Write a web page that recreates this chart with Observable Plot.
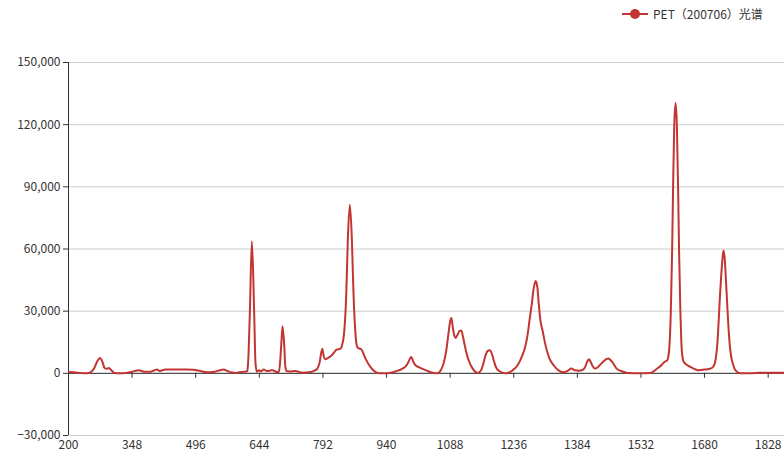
<!DOCTYPE html>
<html><head><meta charset="utf-8">
<script src="https://cdn.jsdelivr.net/npm/d3@7"></script>
<script src="https://cdn.jsdelivr.net/npm/@observablehq/plot@0.6"></script>
<style>
body{margin:0;background:#fff;font-family:"Noto Sans CJK SC","Noto Sans",sans-serif;}
#wrap{position:relative;width:784px;height:460px;}
#legend{position:absolute;left:622px;top:5px;display:flex;align-items:center;font-size:12px;color:#333;white-space:nowrap;}
#legend span{margin-left:5px;}
</style></head><body>
<div id="wrap"><div id="legend"></div></div>
<script>
const seriesName = "PET（200706）光谱";
const wavenumbers = [
200,212,228,242,252,260,267,273,279,284,289,294,300,307,318,333,348,364,376,390,
400,406,412,418,426,450,475,491,505,523,540,552,561,570,580,590,600,610,616,618,
622,626.7,632,635,638,643,648,654.6,660,666,671,675.5,680,685.7,689.4,691.8,695,698,702,704.3,
707,715,728,744,763,772,779,784,790.4,794,798,804,810,817,823.7,833,837,840.7,846.2,850,
854.7,859.3,863.3,868,871.8,876,881,891,902.8,914.5,925,940,950,962,975,985,991,997.5,1003,1008,
1015,1025,1038,1050,1058,1066,1073,1079,1084,1088,1091,1094,1098,1101,1105,1110,1114,1118,1122,1127,
1131,1140,1152,1160,1165,1170,1175,1180,1185,1190,1195,1203,1217,1233,1245,1256,1263,1268,1273,1278,
1282,1287,1291,1294,1298,1303,1310,1319,1329,1340,1352,1362,1370,1378,1388,1396,1402,1406,1411,1415,
1419,1425,1430,1436,1445,1452,1456,1460,1466,1475,1487,1501,1531,1554,1570,1580,1586,1593,1597,1601.5,
1604.6,1606.8,1609.5,1612.6,1615.5,1618.4,1620.6,1623.7,1626,1628.5,1632,1648,1667,1680,1694,1700,1704,1707,1710,1713,
1716,1719,1722,1724.3,1727,1730,1733,1736,1739,1742,1746,1752,1764,1787,1810,1866
];
const intensities = [
600,500,150,0,600,2600,5800,7400,5500,2600,2200,2600,1400,200,0,200,800,1450,800,800,
1500,1900,1100,1500,1800,1800,1800,1700,1200,500,800,1500,1900,1100,400,200,600,800,1000,5400,
29600,63700,29600,5400,800,1450,1000,1900,1200,1100,1500,1450,1000,600,600,3900,13500,22700,13500,3900,
1100,900,1100,300,600,1300,2300,5000,11900,8200,6750,7500,8200,9800,11400,11900,14000,18300,37600,65000,
81400,65000,37600,18300,12700,12000,11600,7100,3000,600,0,0,300,1000,2000,3500,5500,7900,5200,3800,
3000,2000,900,200,0,1400,5000,11000,19000,25000,26700,22500,18000,17000,18500,20500,20700,17500,13500,9000,
6300,2400,200,1500,4500,8500,10700,11100,9500,5800,2800,1000,0,1400,3900,8700,13000,18300,26000,33500,
40500,44500,41500,34000,25500,20700,13500,7200,3900,1400,500,1300,2300,1500,1300,1600,3000,5200,6800,5500,
3700,2300,2700,3900,5800,6900,7100,6600,5300,2400,1000,200,0,150,2300,4000,5400,6300,10000,30000,
60000,90000,120000,130500,120000,90000,60000,30000,15000,8000,5400,3000,1450,1800,2300,3200,5000,8500,15000,26000,
38000,48000,56000,59300,55000,44000,32000,21000,13000,8000,4500,1450,0,0,300,300
];
const xDomain = [200, 1866];
const yDomain = [-30000, 150000];
const xTicks = [200,348,496,644,792,940,1088,1236,1384,1532,1680,1828];
const yTicks = [-30000,0,30000,60000,90000,120000,150000];
const lineColor = "#c23531";

const data = wavenumbers.map((w, i) => ({w, v: intensities[i]}));

const chart = Plot.plot({
  width: 784, height: 460,
  marginLeft: 68, marginRight: 0, marginTop: 62, marginBottom: 25,
  style: {fontFamily: '"Noto Sans CJK SC","Noto Sans",sans-serif', fontSize: "12px", color: "#333", background: "transparent"},
  x: {domain: xDomain, label: null},
  y: {domain: yDomain, label: null},
  marks: [
    Plot.gridY(yTicks, {stroke: "#ccc", strokeOpacity: 1}),
    Plot.axisY(yTicks, {tickSize: 5, tickPadding: 3, tickFormat: d3.format(","), stroke: "#333", label: null}),
    Plot.ruleX([xDomain[0]], {y1: yDomain[0], y2: yDomain[1], stroke: "#333"}),
    Plot.ruleY([0], {stroke: "#333"}),
    Plot.ruleX(xTicks, {y1: 0, y2: 0, insetTop: 0, insetBottom: -5, stroke: "#333"}),
    Plot.axisX(xTicks, {anchor: "bottom", tickSize: 0, tickPadding: 5, tickFormat: d3.format("d"), label: null}),
    Plot.line(data, {x: "w", y: "v", stroke: lineColor, strokeWidth: 2, curve: "monotone-x", clip: true})
  ]
});
document.getElementById("wrap").appendChild(chart);

const legend = document.getElementById("legend");
legend.innerHTML = `<svg width="26" height="14"><line x1="0" y1="7" x2="26" y2="7" stroke="${lineColor}" stroke-width="2"/><circle cx="13" cy="7" r="5" fill="${lineColor}"/></svg><span>${seriesName}</span>`;
</script>
</body></html>
